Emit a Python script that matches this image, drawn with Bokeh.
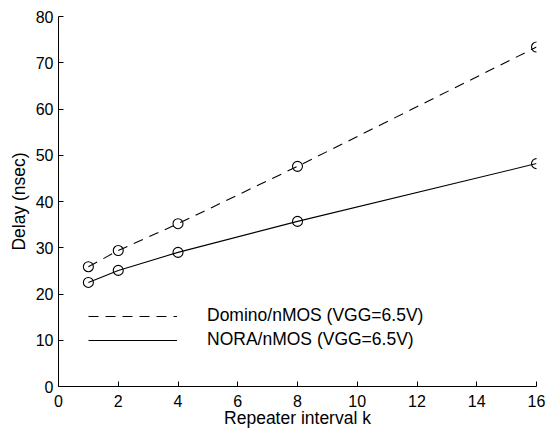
from bokeh.plotting import figure
from bokeh.models import Range1d, FixedTicker, Legend, LegendItem
from bokeh.embed import file_html
from bokeh.resources import INLINE

k = [1, 2, 4, 8, 16]
domino = [25.9, 29.4, 35.2, 47.6, 73.4]
nora = [22.5, 25.1, 29.0, 35.7, 48.2]
x_ticks = [0, 2, 4, 6, 8, 10, 12, 14, 16]
y_ticks = [0, 10, 20, 30, 40, 50, 60, 70, 80]
labels = ["Domino/nMOS (VGG=6.5V)", "NORA/nMOS (VGG=6.5V)"]

FONT = "Liberation Sans"

p = figure(width=548, height=431, output_backend="svg", toolbar_location=None,
           x_range=Range1d(0, 16), y_range=Range1d(0, 80),
           min_border_left=58, min_border_right=12, min_border_top=16, min_border_bottom=45)
p.outline_line_color = None
p.xgrid.visible = False
p.ygrid.visible = False

r1 = p.line(k, domino, line_color="black", line_width=1.1, line_dash="10 7")
p.scatter(k, domino, marker="circle", size=10, fill_color=None, line_color="black", line_width=1.1)
r2 = p.line(k, nora, line_color="black", line_width=1.1)
p.scatter(k, nora, marker="circle", size=10, fill_color=None, line_color="black", line_width=1.1)

for ax, ticks in ((p.xaxis[0], x_ticks), (p.yaxis[0], y_ticks)):
    ax.ticker = FixedTicker(ticks=ticks)
    ax.minor_tick_line_color = None
    ax.major_tick_in = 5
    ax.major_tick_out = 0
    ax.axis_line_color = "black"
    ax.major_tick_line_color = "black"
    ax.major_label_text_font = FONT
    ax.major_label_text_font_size = "16px"
    ax.major_label_text_color = "black"
    ax.axis_label_text_font = FONT
    ax.axis_label_text_font_size = "17.5px"
    ax.axis_label_text_font_style = "normal"
    ax.axis_label_text_color = "black"

p.xaxis.axis_label = "Repeater interval k"
p.yaxis.axis_label = "Delay (nsec)"
p.xaxis.major_label_standoff = 8
p.xaxis.axis_label_standoff = -2
p.yaxis.major_label_standoff = 5
p.yaxis.axis_label_standoff = 4

legend = Legend(items=[LegendItem(label=labels[0], renderers=[r1]),
                       LegendItem(label=labels[1], renderers=[r2])],
                location=(30, 36), orientation="vertical",
                glyph_width=89, glyph_height=20, label_height=20, label_standoff=30,
                spacing=3, padding=0, margin=0,
                border_line_color=None, background_fill_alpha=0,
                label_text_font=FONT, label_text_font_size="17.5px", label_text_color="black")
p.add_layout(legend, "center")

open("out.html", "w").write(file_html(p, INLINE))
